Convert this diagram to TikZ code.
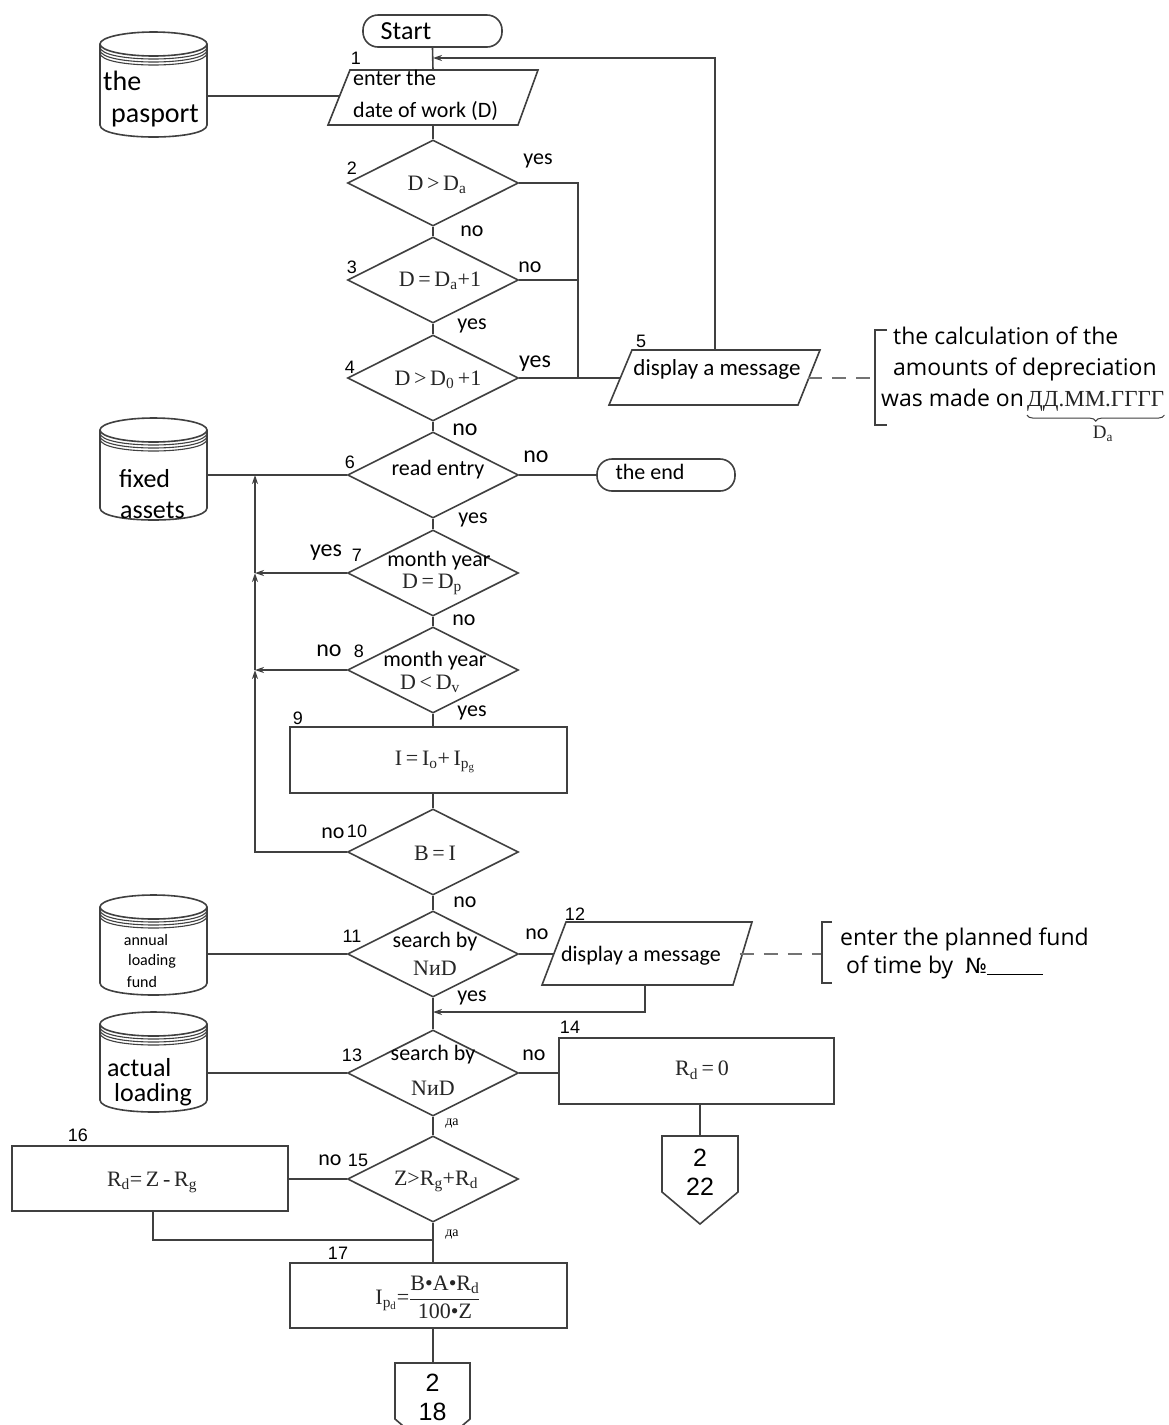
\documentclass[tikz,border=0pt]{standalone}
\usepackage{fontspec}
\setmainfont{Carlito}
\newfontfamily\srf{Liberation Serif}
\newfontfamily\nmf{Liberation Sans}
\newfontfamily\ntf{Open Sans}
\newfontfamily\djv{DejaVu Sans}
\usetikzlibrary{shapes.geometric,arrows.meta,decorations.pathreplacing}
\newcommand\fsz[1]{\fontsize{#1}{#1}\selectfont}
\tikzset{
 lin/.style={draw=black!75, line width=1.6pt},
 dia/.style={lin, diamond, minimum width=171pt, minimum height=86pt, inner sep=0pt, aspect=2},
 proc/.style={lin, rectangle, inner sep=0pt},
 term/.style={lin, rectangle, rounded corners=15pt, inner sep=0pt},
 tx/.style={inner sep=0pt, font=\fsz{22}, text=black},
 nm/.style={inner sep=0pt, font=\nmf\fsz{18}, text=black},
 sr/.style={inner sep=0pt, font=\srf\fsz{22}, text=black!85},
 nt/.style={inner sep=0pt, font=\ntf\fsz{23}, anchor=base west, text=black},
 ar/.style={lin, -{Stealth[length=9pt,width=6pt]}},
 dsh/.style={draw=black!55, line width=1.6pt, dash pattern=on 14pt off 10pt},
 brk/.style={draw=black!75, line width=1.3pt},
}
% cylinder: xl, xr, top, bottom, ry
\newcommand\dbcyl[5]{%
  \draw[lin] ({(#1+#2)/2},{#3+#5}) ellipse ({(#2-#1)/2*1pt} and {#5*1pt});
  \foreach \kk in {3,6,9}{%
    \draw[lin, line width=1.1pt] (#1,{#3+#5+\kk}) .. controls (#1,{#3+#5+\kk+1.333*#5}) and (#2,{#3+#5+\kk+1.333*#5}) .. (#2,{#3+#5+\kk});
  }
  \draw[lin] (#1,{#3+#5}) -- (#1,{#4-#5}) .. controls (#1,{#4-#5+1.333*#5}) and (#2,{#4-#5+1.333*#5}) .. (#2,{#4-#5}) -- (#2,{#3+#5});
}
\begin{document}
\begin{tikzpicture}[x=1pt,y=-1pt]
\useasboundingbox (0,0) rectangle (1169,1425);
\fill[white] (0,0) rectangle (1169,1425);
\clip (0,0) rectangle (1169,1425);

% ---------- Start ----------
\node[term, minimum width=139pt, minimum height=32pt] (start) at (432.5,31) {};
\node[tx, font=\fsz{26}] (startt) at (406,31) {Start};

% ---------- 1: input ----------
\draw[lin] (350,70) -- (538,70) -- (518,125) -- (328,125) -- cycle;
\coordinate (in1n) at (433,70);
\coordinate (in1s) at (433,125);
\coordinate (in1w) at (339.6,96);
\node[tx, anchor=west] (in1a) at (353,78) {enter the};
\node[tx, anchor=west] (in1b) at (353,111) {date of work (D)};
\node[nm] (l1) at (356,58) {1};

% pasport
\dbcyl{100}{207}{32}{137}{12}
\coordinate (cyl1) at (207,96);
\node[tx, font=\fsz{28}, anchor=west] (cyl1a) at (103,81) {the};
\node[tx, font=\fsz{28}, anchor=west] (cyl1b) at (111,116) {pasport};
\draw[lin] (cyl1) -- (in1w);

% ---------- diamonds ----------
\node[dia] (d2) at (433,183) {};
\node[dia] (d3) at (433,280) {};
\node[dia] (d4) at (433,378) {};
\node[dia] (d6) at (433,475) {};
\node[dia] (d7) at (433,573) {};
\node[dia] (d8) at (433,670) {};
\node[dia] (d10) at (433,852) {};
\node[dia] (d11) at (433,954) {};
\node[dia] (d13) at (433,1073) {};
\node[dia] (d15) at (433,1179) {};

\node[sr] (d2t) at (437,185) {D\,>\,D\textsubscript{a}};
\node[sr] (d3t) at (440,281) {D\,=\,D\textsubscript{a}+1};
\node[sr] (d4t) at (438,380) {D\,>\,D\textsubscript{0}\,+1};
\node[tx] (d6t) at (438,470) {read entry};
\node[tx] (d7a) at (439,561) {month year};
\node[sr] (d7b) at (432,584) {D\,=\,D\textsubscript{p}};
\node[tx] (d8a) at (435,661) {month year};
\node[sr] (d8b) at (430,684) {D\,<\,D\textsubscript{v}};
\node[sr] (d10t) at (435,853) {B\,=\,I};
\node[tx] (d11a) at (435,942) {search by};
\node[sr] (d11b) at (435,968) {NиD};
\node[tx] (d13a) at (433,1055) {search by};
\node[sr] (d13b) at (433,1088) {NиD};
\node[sr] (d15t) at (436,1181) {Z>R\textsubscript{g}+R\textsubscript{d}};

% ---------- rectangles ----------
\node[proc, minimum width=277pt, minimum height=66pt] (r9) at (428.5,760) {};
\node[sr] (r9t) at (435,762) {I\,=\,I\textsubscript{o}+\,I\textsubscript{p\textsubscript{g}}};
\node[proc, minimum width=275pt, minimum height=66pt] (r14) at (696.5,1071) {};
\node[sr] (r14t) at (702,1070) {R\textsubscript{d}\,=\,0};
\node[proc, minimum width=276pt, minimum height=65pt] (r16) at (150,1178.5) {};
\node[sr] (r16t) at (152,1182) {R\textsubscript{d}=\,Z\,-\,R\textsubscript{g}};
\node[proc, minimum width=277pt, minimum height=65pt] (r17) at (428.5,1295.5) {};
\node[sr] (r17t) at (428,1297) {I\textsubscript{p\textsubscript{d}}=$\displaystyle\frac{\hbox{\srf\fsz{22}B•A•R\textsubscript{d}}}{\hbox{\srf\fsz{22}100•Z}}$};

% ---------- main column connectors ----------
\draw[lin] (start.south) -- (in1n);
\draw[lin] (in1s) -- (d2.north);
\draw[lin] (d2.south) -- (d3.north);
\draw[lin] (d3.south) -- (d4.north);
\draw[lin] (d4.south) -- (d6.north);
\draw[lin] (d6.south) -- (d7.north);
\draw[lin] (d7.south) -- (d8.north);
\draw[lin] (d8.south) -- (d8.south |- r9.north);
\draw[lin] (d8.south |- r9.south) -- (d10.north);
\draw[lin] (d10.south) -- (d11.north);
\draw[lin] (d11.south) -- (d13.north);
\draw[lin] (d13.south) -- (d15.north);
\draw[lin] (d15.south) -- (d15.south |- r17.north);
\coordinate (pg18n) at (433,1363);
\draw[lin] (d15.south |- r17.south) -- (pg18n);

% ---------- right loop ----------
\coordinate (rv2) at (578,183);
\coordinate (rv4) at (578,378);
\draw[lin] (d2.east) -- (rv2) -- (rv4);
\draw[lin] (d3.east) -- (d3.east -| rv2);
\draw[lin] (632,350) -- (820,350) -- (798,405) -- (609,405) -- cycle;
\coordinate (p5w) at (620.3,378);
\coordinate (p5n) at (715,350);
\coordinate (p5e) at (808.3,378);
\node[tx, font=\fsz{23}] (p5t) at (717,369) {display a message};
\node[nm] (l5) at (641,341) {5};
\draw[lin] (d4.east) -- (p5w);
\coordinate (j1) at (433,58);
\coordinate (c58) at (715,58);
\draw[ar] (p5n) -- (c58) -- (j1);

% note 1
\coordinate (b1) at (875,378);
\draw[dsh] (p5e) -- (b1);
\draw[brk] (887,330) -- (875,330) -- (875,425) -- (887,425);
\node[nt] (n1) at (893,344) {the calculation of the};
\node[nt] (n2) at (893,375) {amounts of depreciation};
\node[nt] (n3) at (881,406) {was made on};
\node[inner sep=0pt, font=\srf\fsz{23}, anchor=base west, text=black!85] (cyr) at (1027,406) {ДД.ММ.ГГГГ};
\draw[brk, line width=1pt, decorate, decoration={brace, mirror, amplitude=6pt}] ([yshift=-4pt]cyr.south west) -- ([yshift=-4pt]cyr.south east);
\node[sr, font=\srf\fsz{19}] (da) at (1103,434) {D\textsubscript{a}};

% ---------- end ----------
\node[term, minimum width=138pt, minimum height=32pt] (endb) at (666,475) {};
\node[tx] (endt) at (650,472) {the end};
\draw[lin] (d6.east) -- (endb.west);

% fixed assets
\dbcyl{100}{207}{418}{520}{12}
\coordinate (cyl2) at (207,475);
\node[tx, font=\fsz{26}, anchor=west] (cyl2a) at (119,479) {fixed};
\node[tx, font=\fsz{26}, anchor=west] (cyl2b) at (120,510) {assets};
\draw[lin] (cyl2) -- (d6.west);

% left return line
\coordinate (jv6) at (255,475);
\coordinate (jv7) at (255,573);
\coordinate (jv8) at (255,670);
\coordinate (jv10) at (255,852);
\draw[ar] (d7.west) -- (jv7);
\draw[ar] (d8.west) -- (jv8);
\draw[ar] (d10.west) -- (jv10) -- (jv8);
\draw[ar] (jv8) -- (jv7);
\draw[ar] (jv7) -- (jv6);

% annual loading fund
\dbcyl{100}{207}{895}{995}{12}
\coordinate (cyl3) at (207,954);
\node[tx, font=\fsz{16}] (cyl3a) at (146,940) {annual};
\node[tx, font=\fsz{16}] (cyl3b) at (152,961) {loading};
\node[tx, font=\fsz{16}] (cyl3c) at (142,982) {fund};
\draw[lin] (cyl3) -- (d11.west);

% display 12
\draw[lin] (566,922) -- (752,922) -- (733,985) -- (542,985) -- cycle;
\coordinate (p12w) at (553.8,954);
\coordinate (p12e) at (739.8,954);
\coordinate (p12s) at (645,985);
\node[tx, font=\fsz{22}] (p12t) at (641,956) {display a message};
\node[nm] (l12) at (575,914) {12};
\draw[lin] (d11.east) -- (p12w);
\coordinate (j12) at (433,1012);
\draw[ar] (p12s) |- (j12);

% note 2
\coordinate (b2) at (822,954);
\draw[dsh] (p12e) -- (b2);
\draw[brk] (832,922) -- (822,922) -- (822,983) -- (832,983);
\node[nt] (n4) at (840,945) {enter the planned fund};
\node[nt] (n5) at (846,973) {of time by\ \ {\djv\fsz{21}№}\rule[-2pt]{56pt}{1.3pt}};

% actual loading
\dbcyl{100}{207}{1012}{1112}{12}
\coordinate (cyl4) at (207,1073);
\node[tx, font=\fsz{26}, anchor=west] (cyl4a) at (107,1068) {actual};
\node[tx, font=\fsz{26}, anchor=west] (cyl4b) at (114,1095) {loading};
\draw[lin] (cyl4) -- (d13.west);
\draw[lin] (d13.east) -- (r14.west |- d13.east);

% connector 22
\coordinate (pg22n) at (700,1136);
\draw[lin] (r14.south -| pg22n) -- (pg22n);
\draw[lin] (662,1136) -- (738,1136) -- (738,1192) -- (700,1224) -- (662,1192) -- cycle;
\node[inner sep=0pt, font=\nmf\fsz{25}] (pg22a) at (700,1158) {2};
\node[inner sep=0pt, font=\nmf\fsz{25}] (pg22b) at (700,1187) {22};

% 15 / 16
\draw[lin] (d15.west) -- (d15.west -| r16.east);
\coordinate (j16) at (433,1240);
\draw[lin] ([xshift=3pt]r16.south) |- (j16);

% connector 18
\draw[lin] (395,1363) -- (470,1363) -- (470,1419) -- (432.5,1451) -- (395,1419) -- cycle;
\node[inner sep=0pt, font=\nmf\fsz{25}] (pg18a) at (432.5,1383) {2};
\node[inner sep=0pt, font=\nmf\fsz{25}] (pg18b) at (432.5,1412) {18};

% ---------- labels ----------
\node[tx] (y2) at (538,161) {yes};
\node[tx] (n2l) at (472,231) {no};
\node[nm] (l2) at (352,168) {2};
\node[nm] (l3) at (352,267) {3};
\node[tx] (n3l) at (530,267) {no};
\node[tx] (y3) at (472,326) {yes};
\node[nm] (l4) at (350,367) {4};
\node[tx, font=\fsz{24}] (y4) at (535,364) {yes};
\node[tx, font=\fsz{24}] (n4l) at (465,430) {no};
\node[nm] (l6) at (350,462) {6};
\node[tx, font=\fsz{24}] (n6) at (536,457) {no};
\node[tx] (y6) at (473,520) {yes};
\node[nm] (l7) at (357,555) {7};
\node[tx, font=\fsz{24}] (y7) at (326,553) {yes};
\node[tx] (n7) at (464,620) {no};
\node[nm] (l8) at (359,651) {8};
\node[tx, font=\fsz{24}] (n8) at (329,651) {no};
\node[tx] (y8) at (472,713) {yes};
\node[nm] (l9) at (298,718) {9};
\node[tx] (n10) at (333,833) {no};
\node[nm] (l10) at (357,831) {10};
\node[tx] (n10b) at (465,902) {no};
\node[nm] (l11) at (352,936) {11};
\node[tx] (n11) at (537,934) {no};
\node[tx] (y11) at (472,998) {yes};
\node[nm] (l13) at (352,1055) {13};
\node[tx] (n13) at (534,1055) {no};
\node[nm] (l14) at (570,1027) {14};
\node[inner sep=0pt, font=\srf\fsz{14}] (da13) at (452,1124) {да};
\node[nm] (l16) at (78,1135) {16};
\node[tx] (n15) at (330,1160) {no};
\node[nm] (l15) at (358,1160) {15};
\node[inner sep=0pt, font=\srf\fsz{14}] (da15) at (452,1235) {да};
\node[nm] (l17) at (338,1253) {17};
\end{tikzpicture}
\end{document}
